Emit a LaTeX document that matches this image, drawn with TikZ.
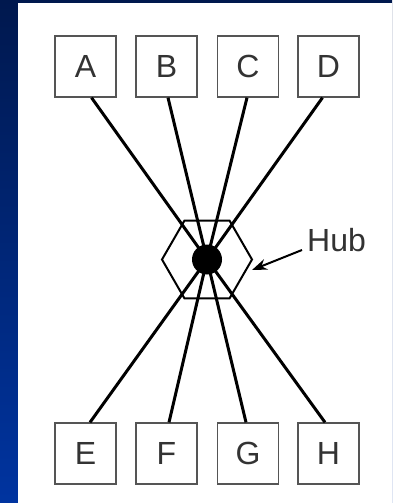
\documentclass[tikz,border=0pt]{standalone}
\usepackage{fontspec}
\setmainfont{Liberation Sans}
\usetikzlibrary{shapes.geometric,arrows.meta}
\definecolor{navytop}{RGB}{0,24,78}
\definecolor{navybot}{RGB}{0,52,160}
\definecolor{boxline}{RGB}{85,85,85}
\definecolor{labeltext}{RGB}{51,51,51}
\tikzset{
  station/.style={draw=boxline, line width=1.3pt, minimum size=61pt, inner sep=0pt,
                  text=labeltext, font=\fontsize{32}{32}\selectfont},
  wire/.style={line width=3pt, black},
}
\begin{document}
\begin{tikzpicture}[x=1pt,y=-1pt]
  % frame: shaded band with white panel
  \useasboundingbox (0,0) rectangle (392,503);
  \shade[top color=navytop, bottom color=navybot] (0,0) rectangle (392,503);
  \fill[white] (18,3) rectangle (392,503);

  % stations
  \node[station] (A) at (85.5,66.5) {A};
  \node[station] (B) at (166.5,66.5) {B};
  \node[station] (C) at (248,66.5) {C};
  \node[station] (D) at (328.5,66.5) {D};
  \node[station] (E) at (85.5,453.5) {E};
  \node[station] (F) at (166.5,453.5) {F};
  \node[station] (G) at (248,453.5) {G};
  \node[station] (H) at (328.5,453.5) {H};

  % hub
  \node[regular polygon, regular polygon sides=6, minimum size=90pt, inner sep=0pt,
        draw, line width=2pt] (hub) at (207,259.5) {};
  \coordinate (hubc) at (207,259.5);

  % wires to the hub centre
  \draw[wire] ([xshift=6pt]A.south) -- (hubc);
  \draw[wire] ([xshift=1.5pt]B.south) -- (hubc);
  \draw[wire] ([xshift=-1pt]C.south) -- (hubc);
  \draw[wire] ([xshift=-6pt]D.south) -- (hubc);
  \draw[wire] ([xshift=4.5pt]E.north) -- (hubc);
  \draw[wire] ([xshift=2.5pt]F.north) -- (hubc);
  \draw[wire] ([xshift=-2pt]G.north) -- (hubc);
  \draw[wire] ([xshift=-3.5pt]H.north) -- (hubc);

  \node[circle, fill=black, minimum size=30pt, inner sep=0pt] (dot) at (hubc) {};

  % label
  \node[anchor=base west, inner sep=0pt, text=labeltext, font=\fontsize{32}{32}\selectfont]
    (lbl) at (307,251) {Hub};
  \coordinate (tip) at (252,270);
  \draw[line width=2pt, -{Stealth[length=15pt,width=11pt]}] (302,250) -- (tip);
\end{tikzpicture}
\end{document}
